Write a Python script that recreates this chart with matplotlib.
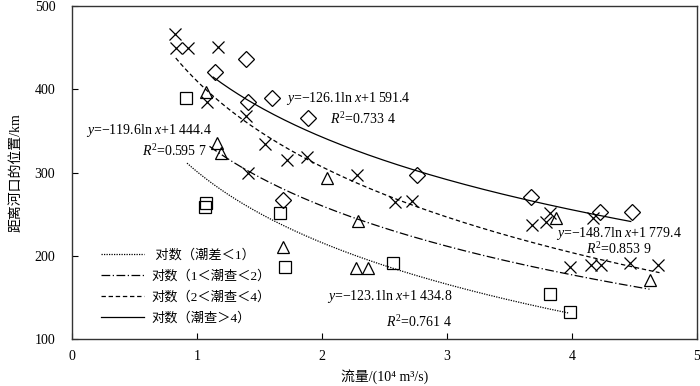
import numpy as np
import matplotlib
matplotlib.use("Agg")
import matplotlib.pyplot as plt

plt.rcParams['font.family'] = ['Liberation Serif', 'Noto Sans CJK SC', 'DejaVu Sans']
plt.rcParams['mathtext.fontset'] = 'custom'
plt.rcParams['mathtext.rm'] = 'Liberation Serif'
plt.rcParams['mathtext.it'] = 'Liberation Serif:italic'

# scatter data (x in 10^4 m3/s, y in km)
sq_x = [0.91, 1.07, 1.06, 1.66, 1.70, 2.57, 3.82, 3.98]
sq_y = [389, 263, 259, 251, 186, 191, 154, 133]

tri_x = [1.07, 1.16, 1.19, 2.04, 2.29, 1.69, 2.27, 2.37, 3.87, 4.62]
tri_y = [397, 336, 324, 293, 242, 210, 185, 185, 245, 171]

cross_x = [0.82, 0.83, 0.93, 1.17, 1.08, 1.39, 1.54, 1.41, 1.72, 1.88, 2.28, 2.58,
           2.72, 3.82, 3.68, 3.79, 4.17, 3.98, 4.15, 4.23, 4.46, 4.69]
cross_y = [466, 449, 449, 451, 385, 368, 334, 299, 315, 319, 297, 264,
           266, 251, 237, 240, 245, 187, 189, 189, 191, 189]

dia_x = [1.14, 1.39, 1.41, 1.60, 1.89, 2.76, 1.69, 3.67, 4.22, 4.48]
dia_y = [421, 436, 385, 390, 366, 297, 267, 271, 252, 252]

# logarithmic trend lines: y = a ln(Q) + b, Q in m3/s
fit_a = [-123.1, -119.6, -148.7, -126.1]
fit_b = [1434.8, 1444.4, 1779.4, 1591.4]
fit_x0 = [0.92, 1.10, 0.83, 1.13]
fit_x1 = [3.97, 4.62, 4.70, 4.47]
fit_labels = [' 对数（潮差＜1）', '对数（1＜潮查＜2）', '对数（2＜潮查＜4）', '对数（潮查＞4）']
fit_styles = [(0, (1, 1)), (0, (7, 2, 1, 2)), (0, (3.5, 2.2)), '-']

fig = plt.figure(figsize=(7, 3.86), dpi=100)
ax = fig.add_axes([72 / 700, 1 - 339 / 386, 625 / 700, 333 / 386])

for a, b, x0, x1, lab, ls in zip(fit_a, fit_b, fit_x0, fit_x1, fit_labels, fit_styles):
    xx = np.linspace(x0, x1, 200)
    ax.plot(xx, a * np.log(xx * 1e4) + b, color='black', linestyle=ls, linewidth=0.9, label=lab)

mk = dict(linestyle='none', markerfacecolor='none', markeredgecolor='black', markeredgewidth=0.9)
ax.plot(sq_x, sq_y, marker='s', markersize=8, **mk)
ax.plot(tri_x, tri_y, marker='^', markersize=8, **mk)
ax.plot(cross_x, cross_y, marker='x', markersize=8, **mk)
ax.plot(dia_x, dia_y, marker='D', markersize=8, **mk)

fs = 10
ax.text(1.71, 389, '$y$=−126.1ln $x$+1 591.4', fontsize=fs, va='center')
ax.text(2.06, 364, '$R^2$=0.733 4', fontsize=fs, va='center')
ax.text(0.11, 351, '$y$=−119.6ln $x$+1 444.4', fontsize=fs, va='center')
ax.text(1.08, 326, '$R^2$=0.595 7', fontsize=fs, ha='right', va='center')
ax.text(3.87, 227, '$y$=−148.7ln $x$+1 779.4', fontsize=fs, va='center')
ax.text(4.11, 208, '$R^2$=0.853 9', fontsize=fs, va='center')
ax.text(3.04, 151, '$y$=−123.1ln $x$+1 434.8', fontsize=fs, ha='right', va='center')
ax.text(3.04, 120, '$R^2$=0.761 4', fontsize=fs, ha='right', va='center')

ax.set_xlim(0, 5)
ax.set_ylim(100, 500)
ax.set_xticks([0, 1, 2, 3, 4, 5])
ax.set_yticks([100, 200, 300, 400, 500])
ax.tick_params(direction='in', labelsize=10, length=4)
ax.tick_params(axis='x', pad=8)
ax.tick_params(axis='y', pad=12)
for s in ax.spines.values():
    s.set_linewidth(1.0)
    s.set_color('#333333')

ax.set_xlabel('流量/(10⁴ m³/s)', fontsize=10, labelpad=4)
ax.set_ylabel('距离河口的位置/km', fontsize=10, labelpad=9)

ax.legend(loc='lower left', bbox_to_anchor=(0.028, 0.008), frameon=False, fontsize=9.5,
          handlelength=3.2, handletextpad=0.6, labelspacing=0.62)

fig.savefig('out.png', dpi=100)
